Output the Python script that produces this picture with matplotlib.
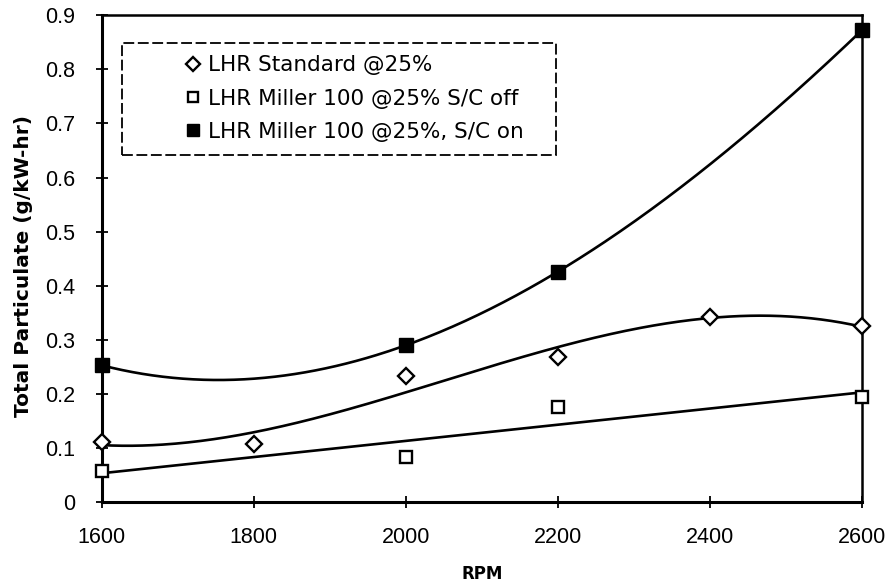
import matplotlib
matplotlib.use('Agg')
import matplotlib.pyplot as plt
from matplotlib.patches import Rectangle
import numpy as np

# ---- Data ----
rpm_std = [1600, 1800, 2000, 2200, 2400, 2600]
pm_std = [0.111, 0.108, 0.233, 0.269, 0.343, 0.325]

rpm_off = [1600, 2000, 2200, 2600]
pm_off = [0.058, 0.084, 0.176, 0.195]

rpm_on = [1600, 2000, 2200, 2600]
pm_on = [0.253, 0.290, 0.426, 0.872]

labels = ['LHR Standard @25%',
          'LHR Miller 100 @25% S/C off',
          'LHR Miller 100 @25%, S/C on']
x_ticks = [1600, 1800, 2000, 2200, 2400, 2600]
y_ticks = [0, 0.1, 0.2, 0.3, 0.4, 0.5, 0.6, 0.7, 0.8, 0.9]

plt.rcParams['font.family'] = ['Liberation Sans', 'DejaVu Sans']
WIDE = ['DejaVu Sans']

fig = plt.figure(figsize=(8.93, 5.86), dpi=100)
ax = fig.add_axes([0.114, 0.143, 0.851, 0.831])

# polynomial trendlines over the full rpm range
xs = np.linspace(1600, 2600, 300)
fits = [(rpm_std, pm_std, 3), (rpm_off, pm_off, 1), (rpm_on, pm_on, 3)]
for xv, yv, order in fits:
    c = np.polyfit(np.array(xv) - 2100, yv, order)
    ax.plot(xs, np.polyval(c, xs - 2100), color='black', lw=1.9, zorder=2)

ax.plot(rpm_std, pm_std, linestyle='none', marker='D', markersize=8,
        markerfacecolor='white', markeredgecolor='black', markeredgewidth=1.7,
        label=labels[0], zorder=3, clip_on=False)
ax.plot(rpm_off, pm_off, linestyle='none', marker='s', markersize=9,
        markerfacecolor='white', markeredgecolor='black', markeredgewidth=1.7,
        label=labels[1], zorder=3, clip_on=False)
ax.plot(rpm_on, pm_on, linestyle='none', marker='s', markersize=10,
        markerfacecolor='black', markeredgecolor='black',
        label=labels[2], zorder=3, clip_on=False)

ax.set_xlim(1600, 2600)
ax.set_ylim(0, 0.9)
ax.set_xticks(x_ticks)
ax.set_yticks(y_ticks)
ax.set_yticklabels(['0'] + [f'{v:.1f}' for v in y_ticks[1:]])
ax.tick_params(direction='inout', length=8, width=1.3, labelsize=15.5)
ax.tick_params(axis='x', pad=14)
ax.tick_params(axis='y', pad=15)

for side in ['left', 'bottom']:
    ax.spines[side].set_linewidth(2.2)
for side in ['top', 'right']:
    ax.spines[side].set_linewidth(1.8)

ax.set_xlabel('RPM', fontsize=12, fontweight='bold', family=WIDE)
ax.set_ylabel('Total Particulate (g/kW-hr)', fontsize=14.5,
              fontweight='bold', family=WIDE)
ax.xaxis.set_label_coords(0.501, -0.128)
ax.yaxis.set_label_coords(-0.09, 0.486)

# legend box drawn separately with a dashed outline
ax.add_patch(Rectangle((0.026, 0.7125), 0.572, 0.23, transform=ax.transAxes,
                       fill=False, edgecolor='black', linewidth=1.3,
                       linestyle=(0, (6, 2)), zorder=4))
leg = ax.legend(loc='upper left', bbox_to_anchor=(0.106, 0.918),
                frameon=False, prop={'family': WIDE, 'size': 15.5},
                handlelength=1.0, handletextpad=0.2, labelspacing=0.62,
                borderpad=0, borderaxespad=0, markerscale=0.85)

fig.savefig('out.png', dpi=100)
